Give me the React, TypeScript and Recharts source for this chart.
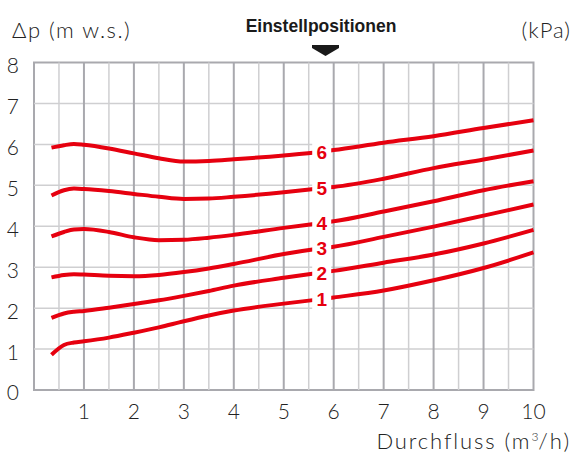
import { LineChart, Line, XAxis, YAxis, ReferenceLine, ReferenceArea, LabelList } from 'recharts'

// Durchfluss (m³/h) sample points shared by all curves
const FLOW = [0.35, 0.6, 0.8, 1, 1.5, 2, 2.5, 3, 3.5, 4, 5, 5.75, 6, 7, 8, 9, 10]

// Δp (m w.s.) per Einstellposition
const POS1 = [0.86, 1.1, 1.16, 1.19, 1.28, 1.4, 1.53, 1.68, 1.82, 1.94, 2.11, 2.22, 2.26, 2.43, 2.68, 2.98, 3.36]
const POS2 = [1.76, 1.87, 1.91, 1.93, 2.01, 2.1, 2.19, 2.3, 2.42, 2.55, 2.74, 2.87, 2.91, 3.11, 3.31, 3.58, 3.91]
const POS3 = [2.75, 2.81, 2.83, 2.82, 2.79, 2.78, 2.81, 2.88, 2.97, 3.08, 3.32, 3.46, 3.5, 3.74, 3.99, 4.26, 4.53]
const POS4 = [3.75, 3.86, 3.92, 3.93, 3.86, 3.73, 3.66, 3.67, 3.72, 3.79, 3.96, 4.08, 4.12, 4.36, 4.61, 4.88, 5.1]
const POS5 = [4.75, 4.88, 4.92, 4.91, 4.86, 4.79, 4.72, 4.665, 4.675, 4.72, 4.83, 4.93, 4.96, 5.16, 5.42, 5.63, 5.85]
const POS6 = [5.92, 5.98, 6.01, 5.99, 5.9, 5.78, 5.66, 5.58, 5.595, 5.635, 5.73, 5.82, 5.86, 6.04, 6.2, 6.4, 6.59]

const SERIES = [
  { key: 'p1', label: '1', values: POS1 },
  { key: 'p2', label: '2', values: POS2 },
  { key: 'p3', label: '3', values: POS3 },
  { key: 'p4', label: '4', values: POS4 },
  { key: 'p5', label: '5', values: POS5 },
  { key: 'p6', label: '6', values: POS6 },
]

const LABEL_AT = 5.75

const X_TICKS = [1, 2, 3, 4, 5, 6, 7, 8, 9, 10]
const Y_TICKS = [0, 1, 2, 3, 4, 5, 6, 7, 8]
const KPA_TICKS = [0, 10, 20, 30, 40, 50, 60, 70, 80]
const MAJOR_X = [1, 2, 3, 4, 5, 6, 7, 8, 9]
const MINOR_X = [0.5, 1.5, 2.5, 3.5, 4.5, 5.5, 6.5, 7.5, 8.5, 9.5]
const GRID_Y = [1, 2, 3, 4, 5, 6, 7]

const data = FLOW.map((x, i) => {
  const row: Record<string, number> = { x }
  SERIES.forEach((s) => (row[s.key] = s.values[i]))
  return row
})

const RED = '#e6000f'
const FONT = 'Lato, "Open Sans", "DejaVu Sans", sans-serif'
const tickStyle = { fontSize: 21, fill: '#222', fontFamily: FONT, fontWeight: 300 }
const titleStyle = { position: 'absolute' as const, fontFamily: FONT, fontWeight: 300, fontSize: 22, color: '#222', whiteSpace: 'nowrap' as const, letterSpacing: 1.5 }

function PosLabel(props: any) {
  const { x, y, index, value } = props
  if (FLOW[index] !== LABEL_AT) return null
  return (
    <g>
      <rect x={x - 9} y={y - 11} width={19} height={22} fill="#fff" />
      <text
        x={x + 0.5}
        y={y + 7}
        textAnchor="middle"
        fill={RED}
        style={{ fontFamily: '"Liberation Sans", Arial, sans-serif', fontWeight: 700, fontSize: 19 }}
      >
        {value}
      </text>
    </g>
  )
}

export default function App() {
  return (
    <div style={{ position: 'absolute', left: 0, top: 0, width: 573, height: 455, background: '#fff' }}>
      <LineChart width={573} height={455} data={data} margin={{ top: 62.5, right: 0, left: 0, bottom: 0 }}>
        <XAxis
          dataKey="x"
          type="number"
          domain={[0, 10]}
          ticks={X_TICKS}
          axisLine={false}
          tickLine={false}
          tickMargin={8}
          height={65}
          tick={tickStyle}
        />
        <YAxis
          yAxisId="l"
          domain={[0, 8]}
          ticks={Y_TICKS}
          axisLine={false}
          tickLine={false}
          tickMargin={9}
          width={34}
          tick={{ ...tickStyle, dy: 3 }}
        />
        <YAxis
          yAxisId="r"
          orientation="right"
          domain={[0, 80]}
          ticks={KPA_TICKS}
          axisLine={false}
          tickLine={false}
          tickMargin={10}
          width={39.5}
          tick={{ ...tickStyle, dy: 1 }}
        />
        {GRID_Y.map((v) => (
          <ReferenceLine key={'h' + v} yAxisId="l" y={v} stroke="#cfcfd1" strokeWidth={1.5} />
        ))}
        {MINOR_X.map((v) => (
          <ReferenceLine key={'m' + v} yAxisId="l" x={v} stroke="#cfcfd1" strokeWidth={1.5} />
        ))}
        {MAJOR_X.map((v) => (
          <ReferenceLine key={'M' + v} yAxisId="l" x={v} stroke="#a9a9ae" strokeWidth={2} />
        ))}
        <ReferenceArea yAxisId="l" x1={0} x2={10} y1={0} y2={8} fill="none" fillOpacity={0} stroke="#a9a9ae" strokeWidth={2} />
        {SERIES.map((s) => (
          <Line
            key={s.key}
            yAxisId="l"
            dataKey={s.key}
            type="monotone"
            stroke={RED}
            strokeWidth={4}
            dot={false}
            isAnimationActive={false}
          >
            <LabelList dataKey={s.key} content={(p: any) => <PosLabel {...p} value={s.label} />} />
          </Line>
        ))}
      </LineChart>

      <div style={{ ...titleStyle, left: 12, top: 16 }}>Δp (m w.s.)</div>
      <div style={{ ...titleStyle, right: 2, top: 16, letterSpacing: 1 }}>(kPa)</div>
      <div
        style={{
          position: 'absolute',
          left: 321,
          top: 16,
          transform: 'translateX(-50%)',
          fontFamily: '"Liberation Sans", Arial, sans-serif',
          fontWeight: 700,
          fontSize: 17.5,
          color: '#1a1a1a',
          whiteSpace: 'nowrap',
        }}
      >
        Einstellpositionen
      </div>
      <svg style={{ position: 'absolute', left: 312, top: 45 }} width={27} height={11}>
        <polygon points="0,0 27,0 27,3 13.5,11 0,3" fill="#1a1a1a" />
      </svg>
      <div style={{ ...titleStyle, right: 2, top: 427, letterSpacing: 1.9 }}>
        Durchfluss (m<sup style={{ fontSize: 12, letterSpacing: 0 }}>3</sup>/h)
      </div>
    </div>
  )
}
